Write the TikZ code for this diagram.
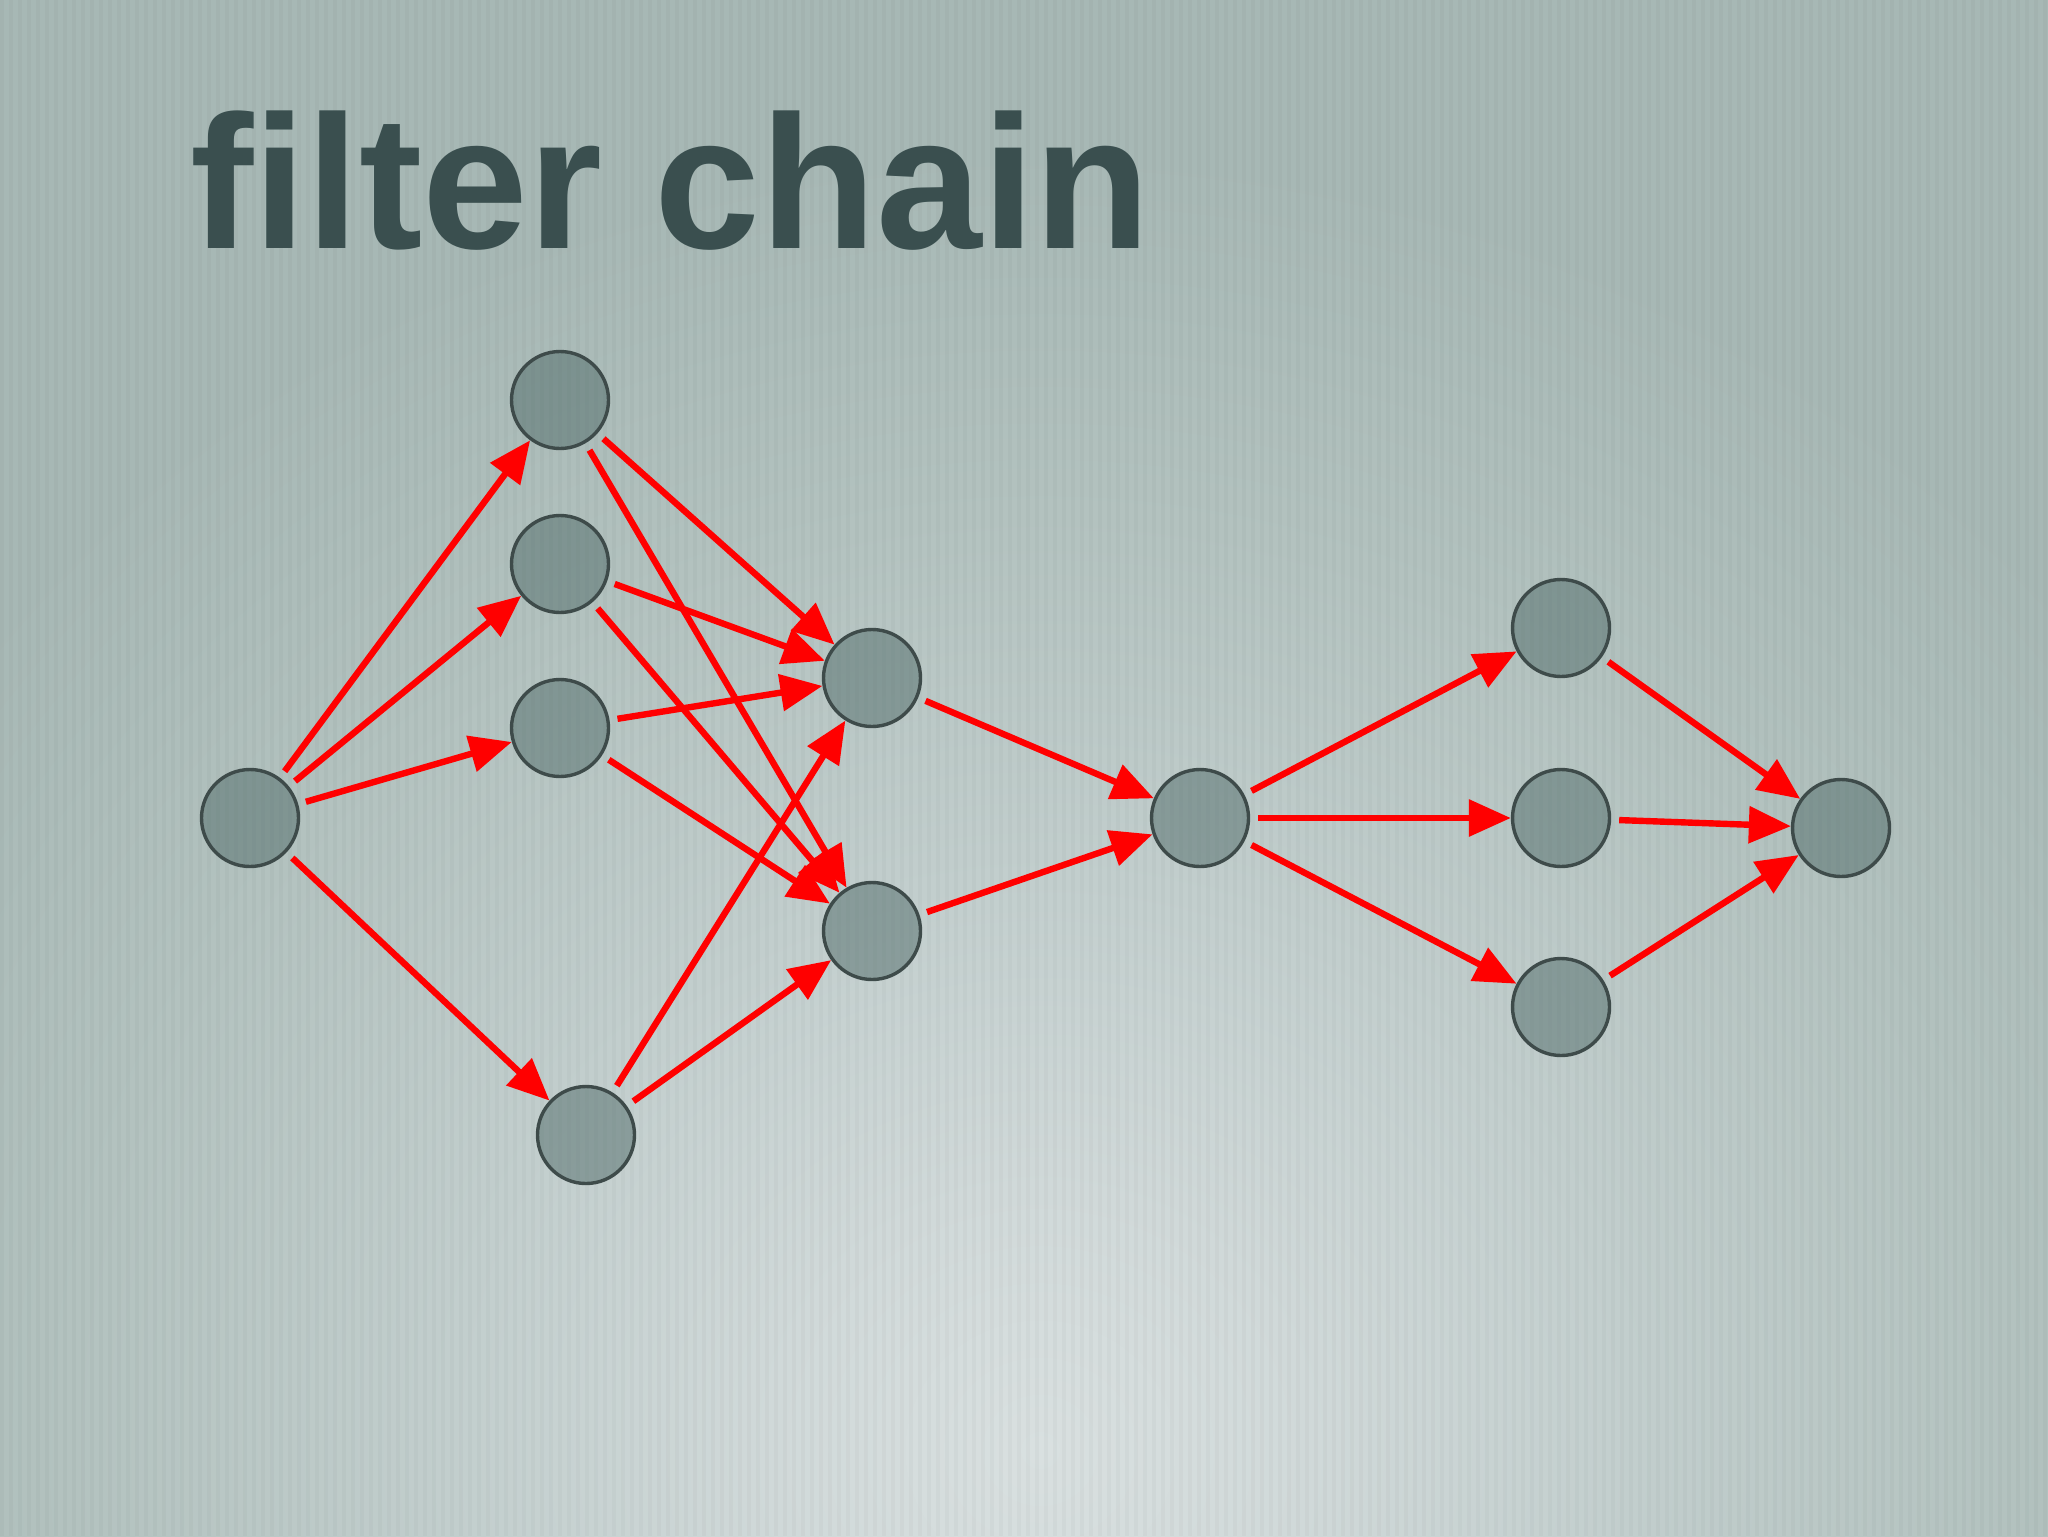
\documentclass[tikz,border=0pt]{standalone}
\usepackage{fontspec}
\setmainfont{Liberation Sans}
\usetikzlibrary{arrows.meta}
\definecolor{bgD}{HTML}{A7B8B5}
\definecolor{bgC}{HTML}{B3C2BF}
\definecolor{bgM}{HTML}{C2CECD}
\definecolor{bgN}{HTML}{D0D9D9}
\definecolor{bgL}{HTML}{D9E0E0}
\definecolor{titlec}{HTML}{3A4F4F}
\definecolor{nodefill}{HTML}{4F6A68}
\definecolor{nodeline}{HTML}{3E4B4A}
\definecolor{arrowred}{HTML}{FF0000}
\pgfdeclareradialshading{bgrad}{\pgfpoint{0bp}{0bp}}{color(0bp)=(bgL); color(5bp)=(bgN); color(11bp)=(bgM); color(18bp)=(bgC); color(25bp)=(bgD); color(50bp)=(bgD)}
\tikzset{
  fnode/.style={circle, draw=nodeline, line width=1.7pt, fill=nodefill, fill opacity=0.5, draw opacity=1, minimum size=48.5pt, inner sep=0pt},
  flow/.style={draw=arrowred, line width=3.2pt, -{Triangle[length=21pt,width=18pt]}, shorten <=4pt}
}
\begin{document}
\begin{tikzpicture}[x=0.5pt,y=-0.5pt]
\useasboundingbox (0,0) rectangle (2048,1536);
\fill[bgD] (0,0) rectangle (2048,1536);
\begin{scope}
\clip (0,0) rectangle (2048,1536);
\shade[shading=bgrad] (1040,1450) ellipse (1350 and 1300);
\foreach \x in {0,9,...,2043} \fill[black,opacity=0.025] (\x,0) rectangle (\x+4,1536);
\end{scope}
\node[anchor=base west, inner sep=0pt, text=titlec, font=\fontsize{95}{114}\selectfont\bfseries] (title) at (190,248) {filter chain};
\node[fnode] (A) at (250,818) {};
\node[fnode] (B1) at (560,400) {};
\node[fnode] (B2) at (560,564) {};
\node[fnode] (B3) at (560,728) {};
\node[fnode] (B4) at (586,1135) {};
\node[fnode] (C1) at (872,678) {};
\node[fnode] (C2) at (872,931) {};
\node[fnode] (D) at (1200,818) {};
\node[fnode] (E1) at (1561,628) {};
\node[fnode] (E2) at (1561,818) {};
\node[fnode] (E3) at (1561,1007) {};
\node[fnode] (F) at (1841,828) {};
\foreach \s/\t in {A/B1,A/B2,A/B3,A/B4,B1/C1,B1/C2,B2/C1,B2/C2,B3/C1,B3/C2,B4/C1,B4/C2,C1/D,C2/D,D/E1,D/E2,D/E3,E1/F,E2/F,E3/F}
  \draw[flow] (\s) -- (\t);
\end{tikzpicture}
\end{document}
